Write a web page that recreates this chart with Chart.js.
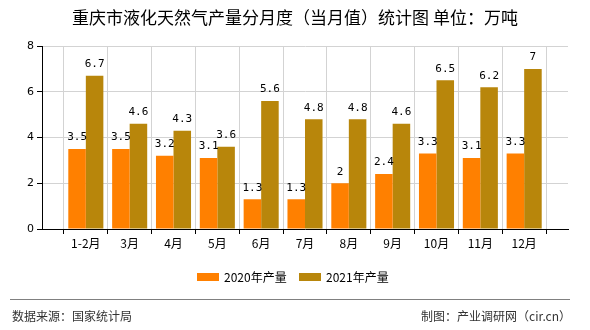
<!DOCTYPE html>
<html>
<head>
<meta charset="utf-8">
<script src="https://cdn.jsdelivr.net/npm/chart.js@4/dist/chart.umd.min.js"></script>
<style>
  html, body { margin: 0; padding: 0; background: #fff; }
  #wrap { width: 590px; height: 330px; position: relative; }
</style>
</head>
<body>
<div id="wrap"><canvas id="barChart" width="590" height="330"></canvas></div>
<script>
const months = ['1-2月', '3月', '4月', '5月', '6月', '7月', '8月', '9月', '10月', '11月', '12月'];
const output2020 = [3.5, 3.5, 3.2, 3.1, 1.3, 1.3, 2, 2.4, 3.3, 3.1, 3.3];
const output2021 = [6.7, 4.6, 4.3, 3.6, 5.6, 4.8, 4.8, 4.6, 6.5, 6.2, 7];
const yTicks = [0, 2, 4, 6, 8];

const titleText = '重庆市液化天然气产量分月度（当月值）统计图 单位：万吨';
const sourceText = '数据来源：国家统计局';
const makerText = '制图：产业调研网（cir.cn）';
const cjk = '"Noto Sans CJK SC", "Noto Sans", sans-serif';

// blank slots at both ends so grid lines fall on the month centres
const labels = [''].concat(months, ['']);
const pad = (arr) => [null].concat(arr, [null]);

const decor = {
  id: 'decor',
  afterDatasetsDraw(chart) {
    const ctx = chart.ctx;
    ctx.save();
    ctx.fillStyle = '#000';
    ctx.font = '11px "DejaVu Sans Mono", monospace';
    ctx.textAlign = 'center';
    ctx.textBaseline = 'bottom';
    chart.data.datasets.forEach((ds, i) => {
      chart.getDatasetMeta(i).data.forEach((bar, j) => {
        const v = ds.data[j];
        if (v === null) return;
        ctx.fillText(String(v), bar.x, bar.y - 6);
      });
    });
    ctx.restore();
  },
  afterDraw(chart) {
    const ctx = chart.ctx;
    ctx.save();
    ctx.fillStyle = '#000';
    ctx.font = '17px ' + cjk;
    ctx.textAlign = 'center';
    ctx.textBaseline = 'middle';
    ctx.fillText(titleText, 295, 18);

    // legend
    ctx.font = '12px ' + cjk;
    ctx.textAlign = 'left';
    let x = 197;
    chart.data.datasets.forEach((ds) => {
      ctx.fillStyle = ds.backgroundColor;
      ctx.fillRect(x, 273, 22, 8);
      ctx.fillStyle = '#000';
      ctx.fillText(ds.label, x + 27, 277);
      x += 102;
    });

    // footer
    ctx.strokeStyle = '#808080';
    ctx.lineWidth = 1;
    ctx.beginPath();
    ctx.moveTo(10, 299.5);
    ctx.lineTo(570, 299.5);
    ctx.stroke();
    ctx.fillStyle = '#333';
    ctx.font = '12px ' + cjk;
    ctx.textAlign = 'left';
    ctx.fillText(sourceText, 12, 316);
    ctx.textAlign = 'right';
    ctx.fillText(makerText, 571, 316);
    ctx.restore();
  }
};

new Chart(document.getElementById('barChart'), {
  type: 'bar',
  data: {
    labels: labels,
    datasets: [
      { label: '2020年产量', data: pad(output2020), backgroundColor: '#FF8000' },
      { label: '2021年产量', data: pad(output2021), backgroundColor: '#B8860B' }
    ]
  },
  options: {
    responsive: false,
    animation: false,
    events: [],
    categoryPercentage: 0.8,
    barPercentage: 1,
    layout: { padding: { top: 46, right: 22, left: 0, bottom: 80 } },
    plugins: { legend: { display: false }, title: { display: false }, tooltip: { enabled: false } },
    scales: {
      x: {
        offset: false,
        grid: { color: '#d3d3d3', tickColor: '#000', tickLength: 5, drawOnChartArea: true },
        border: { color: '#000', width: 1 },
        ticks: { color: '#000', font: { size: 12, family: cjk }, padding: 2, maxRotation: 0, autoSkip: false },
        afterFit: (s) => { s.height = 21; }
      },
      y: {
        min: 0,
        max: 8,
        afterBuildTicks: (s) => { s.ticks = yTicks.map((v) => ({ value: v })); },
        grid: { color: '#d3d3d3', tickColor: '#000', tickLength: 5 },
        border: { color: '#000', width: 1 },
        ticks: { color: '#000', font: { size: 11, family: '"DejaVu Sans", sans-serif' }, padding: 3 },
        afterFit: (s) => { s.width = 42; }
      }
    }
  },
  plugins: [decor]
});
</script>
</body>
</html>
